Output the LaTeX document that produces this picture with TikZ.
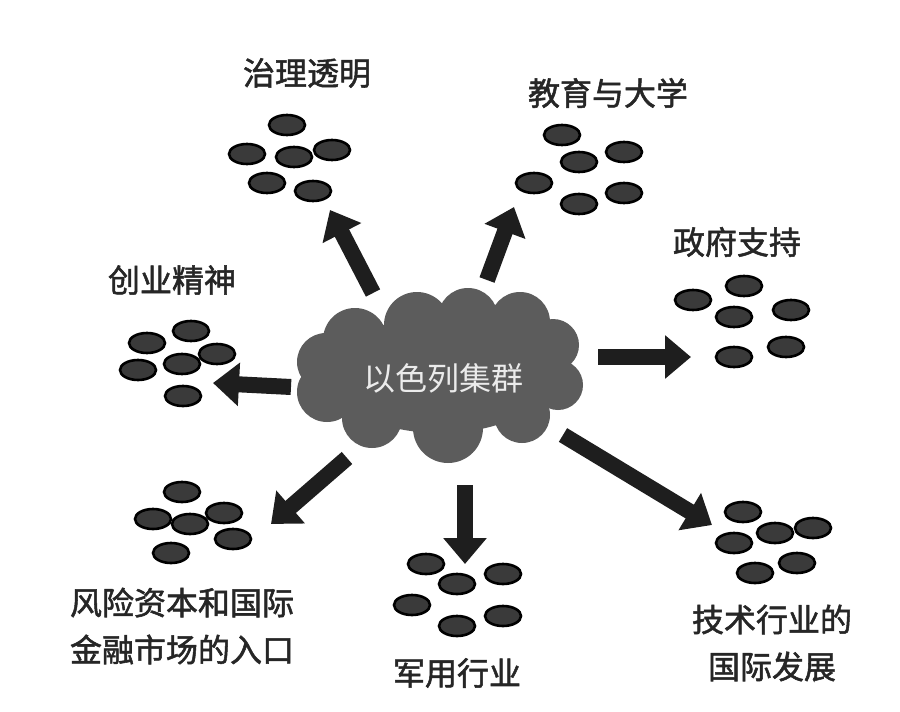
\documentclass[tikz,border=0pt]{standalone}
\usepackage{fontspec}
\setmainfont{Noto Sans CJK SC}
\newfontfamily\lblfont{Noto Sans CJK SC}[UprightFeatures={FakeBold=1.6}]
\usetikzlibrary{shapes.geometric,arrows.meta}
\definecolor{cloudgray}{HTML}{5C5C5C}
\definecolor{dotfill}{HTML}{3A3A3A}
\definecolor{arrowfill}{HTML}{1E1E1E}
\tikzset{
  dot/.style={ellipse,draw=black,fill=dotfill,line width=2.6pt,minimum width=36pt,minimum height=20pt,inner sep=0pt},
  lbl/.style={font=\fontsize{32}{47}\selectfont\lblfont,text=black!85,align=center,inner sep=0pt},
  cloudtext/.style={font=\fontsize{32}{40}\selectfont,text=white!92!black,inner sep=0pt},
  blockarrow/.style={draw=arrowfill,line width=16pt,-{Triangle[length=26pt,width=42pt]}},
  cloudpart/.style={fill=cloudgray,draw=none}
}
\begin{document}
\begin{tikzpicture}[x=1pt,y=-1pt]
\useasboundingbox[fill=white] (0,0) rectangle (900,712);

% cloud
\fill[cloudpart] (440,375) ellipse [x radius=112, y radius=58];
\foreach \cx/\cy/\r in {355/340/32, 417/325/33, 468/318/30, 520/322/30, 553/345/26, 558/385/25,
  522/415/28, 448/428/35, 372/418/30, 327/392/30, 326/362/29}
  \fill[cloudpart] (\cx,\cy) circle [radius=\r];
\node[cloudtext] (cloud) at (443,378) {以色列集群};

% cluster 1: 治理透明
\node[lbl] (t1) at (307,73) {治理透明};
\node[dot] (a1) at (287,125) {};
\node[dot] (a2) at (247,154) {};
\node[dot] (a3) at (332,150) {};
\node[dot] (a4) at (294,157) {};
\node[dot] (a5) at (267,183) {};
\node[dot] (a6) at (313,191) {};

% cluster 2: 教育与大学
\node[lbl] (t2) at (608,93) {教育与大学};
\node[dot] (b1) at (562,135) {};
\node[dot] (b2) at (624,152) {};
\node[dot] (b3) at (579,162) {};
\node[dot] (b4) at (534,183) {};
\node[dot] (b5) at (579,204) {};
\node[dot] (b6) at (624,193) {};

% cluster 3: 政府支持
\node[lbl] (t3) at (737,242) {政府支持};
\node[dot] (c1) at (693,300) {};
\node[dot] (c2) at (744,286) {};
\node[dot] (c3) at (734,317) {};
\node[dot] (c4) at (791,310) {};
\node[dot] (c5) at (734,357) {};
\node[dot] (c6) at (786,347) {};

% cluster 4: 创业精神
\node[lbl] (t4) at (172,280) {创业精神};
\node[dot] (d1) at (147,343) {};
\node[dot] (d2) at (191,331) {};
\node[dot] (d3) at (217,354) {};
\node[dot] (d4) at (182,364) {};
\node[dot] (d5) at (138,370) {};
\node[dot] (d6) at (183,396) {};

% cluster 5: 风险资本
\node[lbl] (t5) at (182,626) {风险资本和国际\\金融市场的入口};
\node[dot] (e1) at (182,492) {};
\node[dot] (e2) at (153,519) {};
\node[dot] (e4) at (224,513) {};
\node[dot] (e3) at (190,524) {};
\node[dot] (e5) at (233,539) {};
\node[dot] (e6) at (171,553) {};

% cluster 6: 军用行业
\node[lbl] (t6) at (457,673) {军用行业};
\node[dot] (f1) at (426,564) {};
\node[dot] (f2) at (457,584) {};
\node[dot] (f3) at (503,574) {};
\node[dot] (f4) at (412,605) {};
\node[dot] (f5) at (457,626) {};
\node[dot] (f6) at (503,616) {};

% cluster 7: 技术行业
\node[lbl] (t7) at (772,643) {技术行业的\\国际发展};
\node[dot] (g1) at (743,512) {};
\node[dot] (g2) at (775,533) {};
\node[dot] (g3) at (813,528) {};
\node[dot] (g4) at (734,543) {};
\node[dot] (g5) at (797,563) {};
\node[dot] (g6) at (755,573) {};

% arrow end points
\coordinate (s1) at (373,293); \coordinate (p1) at (330,210);
\coordinate (s2) at (487,280); \coordinate (p2) at (514,207);
\coordinate (s3) at (598,357); \coordinate (p3) at (691,357);
\coordinate (s4) at (291,387); \coordinate (p4) at (213,383);
\coordinate (s5) at (347,458); \coordinate (p5) at (271,524);
\coordinate (s6) at (465,485); \coordinate (p6) at (465,564);
\coordinate (s7) at (563,435); \coordinate (p7) at (712,525);

\foreach \i in {1,...,7}
  \draw[blockarrow] (s\i) -- (p\i);
\end{tikzpicture}
\end{document}
